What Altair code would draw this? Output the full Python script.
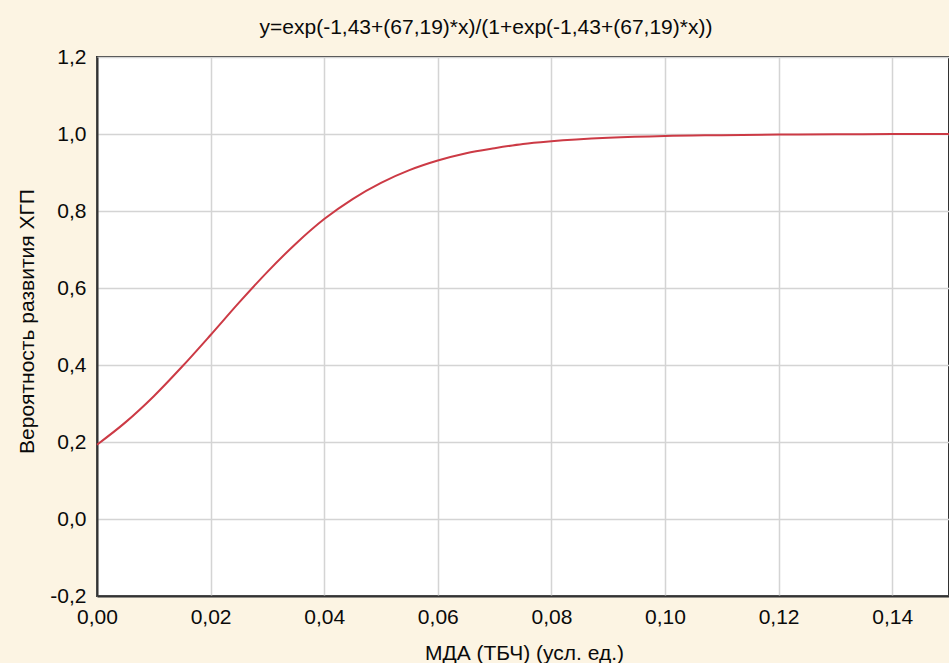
import altair as alt
import pandas as pd

# values
x_vals = [0.0, 0.005, 0.01, 0.015, 0.02, 0.025, 0.03, 0.035, 0.04, 0.045, 0.05,
          0.055, 0.06, 0.065, 0.07, 0.075, 0.08, 0.09, 0.10, 0.11, 0.12, 0.13, 0.14, 0.15]
y_vals = [0.193, 0.251, 0.319, 0.396, 0.478, 0.562, 0.642, 0.715, 0.779, 0.831, 0.873,
          0.906, 0.931, 0.950, 0.963, 0.974, 0.981, 0.990, 0.995, 0.997, 0.9987, 0.9993, 0.9997, 0.9998]

x_ticks = [0.0, 0.02, 0.04, 0.06, 0.08, 0.10, 0.12, 0.14]
y_ticks = [-0.2, 0.0, 0.2, 0.4, 0.6, 0.8, 1.0, 1.2]

title_text = "y=exp(-1,43+(67,19)*x)/(1+exp(-1,43+(67,19)*x))"
x_title = "МДА (ТБЧ) (усл. ед.)"
y_title = "Вероятность развития ХГП"

df = pd.DataFrame({"x": x_vals, "y": y_vals})

FONT = "Liberation Sans"

chart = (
    alt.Chart(df)
    .mark_line(color="#cc3a45", strokeWidth=2, interpolate="monotone")
    .encode(
        x=alt.X(
            "x:Q",
            scale=alt.Scale(domain=[0, 0.15], nice=False, zero=False),
            axis=alt.Axis(
                values=x_ticks,
                labelExpr="replace(replace(format(datum.value, '.2f'), '.', ','), '\u2212', '-')",
                title=x_title,
                titleX=427,
                titleY=63,
                titleBaseline="alphabetic",
                labelPadding=10,
                labelFlush=False,
            ),
        ),
        y=alt.Y(
            "y:Q",
            scale=alt.Scale(domain=[-0.2, 1.2], nice=False, zero=False),
            axis=alt.Axis(
                values=y_ticks,
                labelExpr="replace(replace(format(datum.value, '.1f'), '.', ','), '\u2212', '-')",
                title=y_title,
                titleX=-64,
                titleY=264,
                titleBaseline="alphabetic",
                titleAngle=-90,
                labelPadding=11,
                labelFlush=False,
            ),
        ),
    )
    .properties(
        width=852,
        height=539,
        autosize=alt.AutoSizeParams(type="none"),
        padding={"left": 97, "top": 57, "right": 0, "bottom": 67},
        background="#fcf4e3",
        title=alt.TitleParams(
            text=title_text,
            anchor="middle",
            dx=-37,
            dy=29,
            offset=20,
            baseline="alphabetic",
            font=FONT,
            fontSize=21,
            fontWeight="normal",
            color="#0a0a0a",
        ),
    )
    .configure_view(fill="white", stroke="#333333", strokeWidth=2)
    .configure_axis(
        labelFont=FONT,
        labelFontSize=21,
        labelColor="#0a0a0a",
        titleFont=FONT,
        titleFontSize=21,
        titleFontWeight="normal",
        titleColor="#0a0a0a",
        gridColor="#d4d4d4",
        gridWidth=1.5,
        domainColor="#333333",
        domainWidth=2,
        ticks=False,
    )
)

chart.save("out.html", embed_options={"renderer": "svg", "actions": False})
